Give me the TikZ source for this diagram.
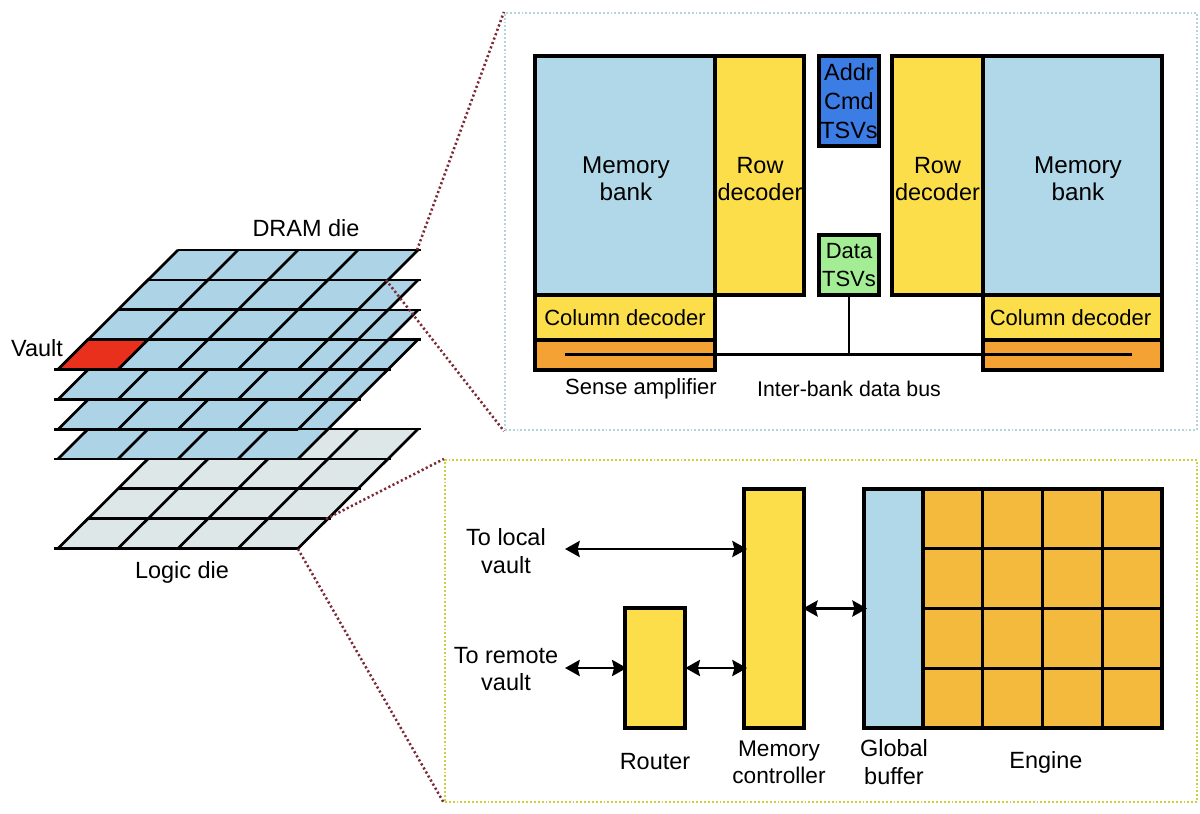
\documentclass[tikz,border=0pt]{standalone}
\usepackage{fontspec}
\setmainfont{Liberation Sans}
\usetikzlibrary{arrows.meta}
\definecolor{bankblue}{HTML}{B1D8E8}
\definecolor{dieblue}{HTML}{ACD3E6}
\definecolor{diegrey}{HTML}{DEE7E8}
\definecolor{decyellow}{HTML}{FBDE4A}
\definecolor{tsvblue}{HTML}{3B7CE5}
\definecolor{tsvgreen}{HTML}{A3EE94}
\definecolor{senseorange}{HTML}{F3A233}
\definecolor{pegold}{HTML}{F3BA3E}
\definecolor{vaultred}{HTML}{E8301C}
\definecolor{framecyan}{HTML}{B4D4DC}
\definecolor{frameolive}{HTML}{CDD03A}
\definecolor{linkred}{HTML}{7A2A35}
\tikzset{
  px/.style={x=0.75pt,y=-0.75pt},
  lab/.style={font=\fontsize{17.6}{20.5}\selectfont,align=center,inner sep=0pt,text=black},
  labsmall/.style={font=\fontsize{16.5}{20.5}\selectfont,align=center,inner sep=0pt,text=black},
  boxn/.style={draw=black,line width=2.4pt,inner sep=0pt,font=\fontsize{17.6}{20.5}\selectfont,align=center},
  gridline/.style={draw=black,line width=2pt},
  linkdots/.style={draw=linkred,line width=1.9pt,dash pattern=on 1.6pt off 1.9pt},
  framebox/.style={line width=1.6pt,dash pattern=on 1.4pt off 1.5pt,inner sep=0pt},
  dbl/.style={line width=2.2pt,{Stealth[length=11pt,width=12pt,inset=1.5pt]}-{Stealth[length=11pt,width=12pt,inset=1.5pt]}},
  wire/.style={draw=black,line width=1.8pt}
}
% #1 bottom y, #2 fill colour
\newcommand{\stackdie}[2]{%
  \fill[#2] (58,#1) -- (298,#1) -- ({298+120},{#1-119.5}) -- ({58+120},{#1-119.5}) -- cycle;
  \foreach \r in {0,1,2,3,4}{
    \draw[gridline] ({58+30*\r-4*(\r==0)},{#1-29.875*\r}) -- ({298+30*\r+(\r>0)*3},{#1-29.875*\r});
  }
  \foreach \c in {0,1,2,3,4}{
    \draw[gridline] ({58+60*\c},{#1}) -- ({178+60*\c},{#1-119.5});
  }
}
\begin{document}
\begin{tikzpicture}[px]
\useasboundingbox (0,0) rectangle (1200,814);
\fill[white] (0,0) rectangle (1200,814);

% stack of dies
\stackdie{548.5}{diegrey}
\stackdie{459}{dieblue}
\stackdie{429.5}{dieblue}
\stackdie{399.5}{dieblue}
\stackdie{369.5}{dieblue}
\filldraw[fill=vaultred,draw=black,line width=2pt] (58,369.5) -- (118,369.5) -- (148,339.6) -- (88,339.6) -- cycle;

\node[lab] (dramlabel) at (306,228) {DRAM die};
\node[lab] (vaultlabel) at (37,348) {Vault};
\node[lab] (logiclabel) at (182,572) {Logic die};

% link anchors
\coordinate (dieA) at (417,250);
\coordinate (dieB) at (386,280);
\coordinate (dieL) at (326,519);
\coordinate (dieM) at (298,549);

% upper frame
\node[framebox,draw=framecyan,minimum width=692*0.75pt,minimum height=417*0.75pt] (dramframe) at (851,221.5) {};
% lower frame
\node[framebox,draw=frameolive,minimum width=752*0.75pt,minimum height=342*0.75pt] (logicframe) at (821,631) {};

\draw[linkdots] (dieA) -- (dramframe.north west);
\draw[linkdots] (dieB) -- (dramframe.south west);
\draw[linkdots] (dieL) -- (logicframe.north west);
\draw[linkdots] (dieM) -- (logicframe.south west);

% DRAM vault
\node[boxn,fill=bankblue,minimum width=180*0.75pt,minimum height=239*0.75pt] (bankL) at (625,175.5) {};
\node[boxn,fill=decyellow,minimum width=89*0.75pt,minimum height=239*0.75pt] (rowL) at (759.5,175.5) {};
\node[boxn,fill=bankblue,minimum width=179*0.75pt,minimum height=239*0.75pt] (bankR) at (1072.5,175.5) {};
\node[boxn,fill=decyellow,minimum width=91*0.75pt,minimum height=239*0.75pt] (rowR) at (937.5,175.5) {};
\node[lab,font=\fontsize{18.2}{20.5}\selectfont] (bankLtext) at (626,179) {Memory\\bank};
\node[lab,font=\fontsize{18.2}{20.5}\selectfont] (bankRtext) at (1078,179) {Memory\\bank};
\node[lab] (rowLtext) at (760,179) {Row\\decoder};
\node[lab] (rowRtext) at (937.5,179) {Row\\decoder};
\node[boxn,fill=tsvblue,minimum width=60*0.75pt,minimum height=90*0.75pt,font=\fontsize{17.6}{21.7}\selectfont] (addr) at (849,101) {Addr\\Cmd\\TSVs};
\node[boxn,fill=tsvgreen,minimum width=60*0.75pt,minimum height=60*0.75pt,font=\fontsize{16.5}{20.5}\selectfont] (data) at (849,265) {Data\\TSVs};
\node[boxn,fill=decyellow,minimum width=180*0.75pt,minimum height=45*0.75pt,font=\fontsize{16.5}{20.5}\selectfont] (colL) at (625,317.5) {Column decoder};
\node[boxn,fill=decyellow,minimum width=179*0.75pt,minimum height=45*0.75pt,font=\fontsize{16.5}{20.5}\selectfont] (colR) at (1072.5,317.5) {\hspace*{-3pt}Column decoder};
\node[boxn,fill=senseorange,minimum width=180*0.75pt,minimum height=30*0.75pt] (senseL) at (625,355) {};
\node[boxn,fill=senseorange,minimum width=179*0.75pt,minimum height=30*0.75pt] (senseR) at (1072.5,355) {};
\coordinate (busL) at (565,354.5);
\coordinate (busR) at (1132,354.5);
\draw[wire] (busL) -- (busR);
\draw[wire] (data.south) -- (data.south |- busL);
\node[labsmall] (senselabel) at (641,389) {Sense amplifier};
\node[labsmall,font=\fontsize{16}{20.5}\selectfont] (buslabel) at (849,389) {Inter-bank data bus};

% logic die
\node[boxn,fill=decyellow,minimum width=60*0.75pt,minimum height=120*0.75pt] (router) at (655,668) {};
\node[boxn,fill=decyellow,minimum width=60*0.75pt,minimum height=239*0.75pt] (mc) at (774,608.5) {};
\node[boxn,fill=bankblue,minimum width=59*0.75pt,minimum height=239*0.75pt] (gbuf) at (893.5,608.5) {};
\foreach \c in {0,1,2,3}{
  \foreach \r in {0,1,2,3}{
    \node[boxn,fill=pegold,minimum width=59.75*0.75pt,minimum height=59.75*0.75pt] (pe\c\r) at ({952.9+59.75*\c},{518.9+59.75*\r}) {};
  }
}
\coordinate (localend) at (565,549);
\coordinate (remoteend) at (565,668);
\draw[dbl,shorten >=-3.5pt] (localend) -- (localend -| mc.west);
\draw[dbl,shorten >=-2.5pt] (remoteend) -- (router.west);
\draw[dbl,shorten >=-3.5pt,shorten <=-1pt] (router.east) -- (router.east -| mc.west);
\draw[dbl,shorten >=-3.5pt,shorten <=-2pt] (mc.east) -- (gbuf.west);

\node[lab] (tolocal) at (506,551) {To local\\vault};
\node[lab] (toremote) at (506,669) {To remote\\vault};
\node[lab] (routerlabel) at (655,762) {Router};
\node[lab,font=\fontsize{17}{20.5}\selectfont] (mclabel) at (779,762) {Memory\\controller};
\node[lab] (gbuflabel) at (894,762) {Global\\buffer};
\node[lab] (enginelabel) at (1046,762) {Engine};
\end{tikzpicture}
\end{document}
